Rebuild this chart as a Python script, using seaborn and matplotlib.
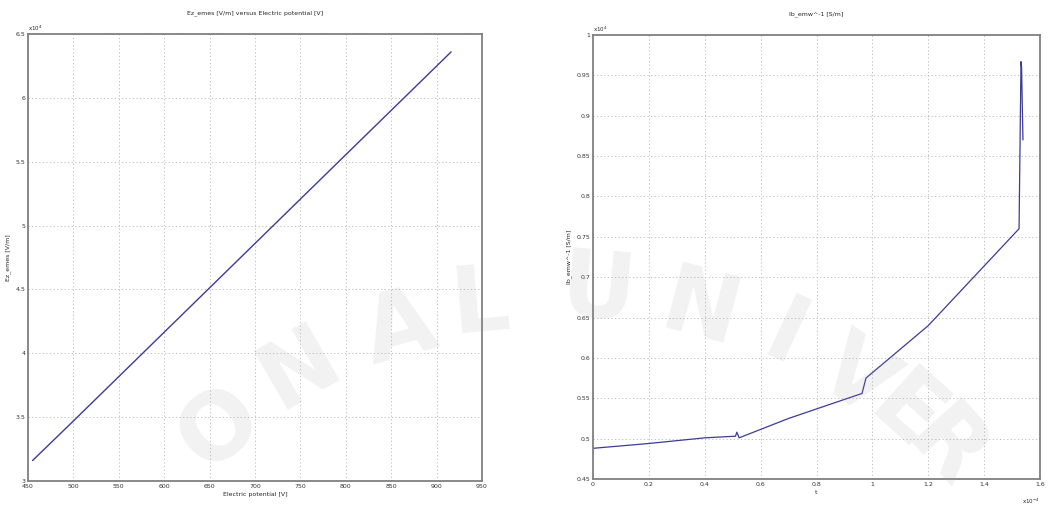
import matplotlib
matplotlib.use("Agg")
import matplotlib.pyplot as plt
import matplotlib.ticker as mticker
import seaborn as sns
import pandas as pd

# ---- data (left chart) ----
potential_v = [455, 500, 600, 700, 800, 916]
ez_vm = [31600, 34700, 41650, 48600, 55550, 63600]

# ---- data (right chart) ----
t_scaled = [0.0, 0.20, 0.40, 0.510, 0.515, 0.523, 0.70, 0.963, 0.977, 1.20, 1.525, 1.532, 1.534, 1.539]
s_scaled = [0.488, 0.494, 0.501, 0.503, 0.508, 0.501, 0.525, 0.556, 0.575, 0.640, 0.760, 0.967, 0.960, 0.870]

left_xticks = [450, 500, 550, 600, 650, 700, 750, 800, 850, 900, 950]
left_yticks = [30000, 35000, 40000, 45000, 50000, 55000, 60000, 65000]
right_xticks = [0, 0.2, 0.4, 0.6, 0.8, 1.0, 1.2, 1.4, 1.6]
right_yticks = [0.45, 0.5, 0.55, 0.6, 0.65, 0.7, 0.75, 0.8, 0.85, 0.9, 0.95, 1.0]

sns.set_style("white")
plt.rcParams['font.family'] = ['DejaVu Sans']

fig = plt.figure(figsize=(10.54, 5.11), dpi=100)
ax1 = fig.add_axes([28/1054, 1-481/511, (482-28)/1054, (481-34)/511])
ax2 = fig.add_axes([593/1054, 1-479/511, (1040-593)/1054, (479-35)/511])

line_color = "#3c3c94"
grid_kw = dict(color="#bdbdbd", linestyle=(0, (1.2, 2.5)), linewidth=0.7)
fs = 4.5

df1 = pd.DataFrame({"V": potential_v, "Ez": ez_vm})
sns.lineplot(data=df1, x="V", y="Ez", ax=ax1, color=line_color, linewidth=1.0,
             sort=False, estimator=None)
ax1.set_xlim(450, 950)
ax1.set_ylim(30000, 65000)
ax1.set_xticks(left_xticks)
ax1.set_yticks(left_yticks)
ax1.yaxis.set_major_formatter(mticker.FuncFormatter(lambda v, p: f"{v/1e4:g}"))
ax1.set_xlabel("Electric potential [V]", fontsize=fs, labelpad=2)
ax1.set_ylabel("Ez_emes [V/m]", fontsize=fs, labelpad=3)
ax1.set_title("Ez_emes [V/m] versus Electric potential [V]", fontsize=fs, pad=14)
ax1.text(0.0, 1.003, r"x10$^{4}$", transform=ax1.transAxes, fontsize=fs-0.5,
         ha="left", va="bottom")

df2 = pd.DataFrame({"t": t_scaled, "s": s_scaled})
sns.lineplot(data=df2, x="t", y="s", ax=ax2, color=line_color, linewidth=0.9,
             sort=False, estimator=None)
ax2.set_xlim(0, 1.6)
ax2.set_ylim(0.45, 1.0)
ax2.set_xticks(right_xticks)
ax2.set_yticks(right_yticks)
ax2.xaxis.set_major_formatter(mticker.FuncFormatter(lambda v, p: f"{v:g}"))
ax2.yaxis.set_major_formatter(mticker.FuncFormatter(lambda v, p: f"{v:g}"))
ax2.set_xlabel("t", fontsize=fs, labelpad=2)
ax2.set_ylabel("lb_emw^-1 [S/m]", fontsize=fs, labelpad=3)
ax2.set_title("lb_emw^-1 [S/m]", fontsize=fs, pad=14)
ax2.text(0.0, 1.003, r"x10$^{4}$", transform=ax2.transAxes, fontsize=fs-0.5,
         ha="left", va="bottom")
ax2.text(1.0, -0.04, r"x10$^{-4}$", transform=ax2.transAxes, fontsize=fs-0.5,
         ha="right", va="top")

for ax in (ax1, ax2):
    ax.grid(True, **grid_kw)
    ax.tick_params(axis="both", labelsize=fs, length=2, width=0.5, direction="in",
                   pad=2, colors="#333333")
    for s in ax.spines.values():
        s.set_color("#808080")
        s.set_linewidth(1.3)
        s.set_visible(True)

# watermark
wm = [("O", 220, 428, 40), ("N", 300, 368, 30), ("A", 400, 330, 15), ("L", 480, 305, 5),
      ("U", 598, 292, -5), ("N", 700, 312, -15), ("I", 785, 338, -25), ("V", 855, 378, -35),
      ("E", 905, 415, -42), ("R", 945, 450, -48)]
for ch, px, py, rot in wm:
    fig.text(px/1054, 1-py/511, ch, fontsize=66, fontweight="bold", color="#9a9a9a",
             alpha=0.13, rotation=rot, ha="center", va="center", zorder=10)

fig.savefig("out.png", dpi=100)
